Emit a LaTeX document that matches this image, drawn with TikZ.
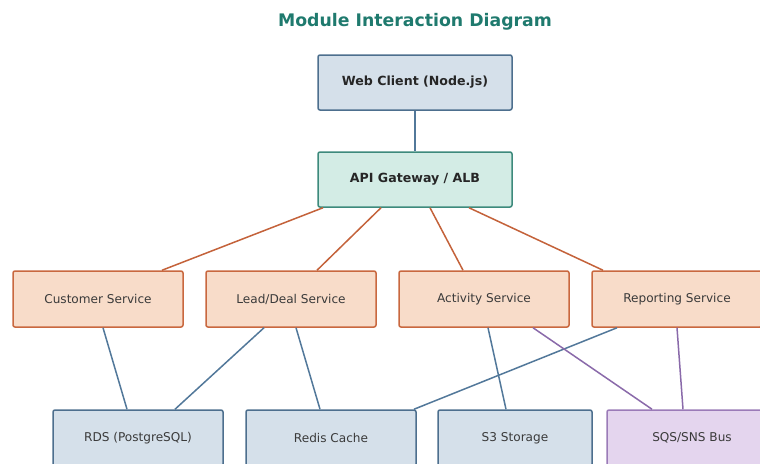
\documentclass[tikz,border=0pt]{standalone}
\usepackage{fontspec}
\setmainfont{DejaVu Sans}
\definecolor{bfill}{HTML}{D5E0EA}
\definecolor{bdraw}{HTML}{4D6F8E}
\definecolor{tfill}{HTML}{D3ECE5}
\definecolor{tdraw}{HTML}{3D8A7C}
\definecolor{pfill}{HTML}{F8DCC9}
\definecolor{pdraw}{HTML}{C9683F}
\definecolor{lfill}{HTML}{E4D5EE}
\definecolor{ldraw}{HTML}{9B7BB8}
\definecolor{eorange}{HTML}{C4623A}
\definecolor{eblue}{HTML}{52789A}
\definecolor{epurple}{HTML}{8A6AAA}
\definecolor{titlec}{HTML}{1F7A6E}
\definecolor{txt}{HTML}{3A3A3A}
\tikzset{
  box/.style={rectangle, rounded corners=2pt, line width=1.5pt, minimum height=55pt, inner sep=0pt, text=txt, font=\fontsize{12.1}{14}\selectfont},
  bluebox/.style={box, fill=bfill, draw=bdraw},
  tealbox/.style={box, fill=tfill, draw=tdraw},
  peachbox/.style={box, fill=pfill, draw=pdraw, minimum width=170pt, minimum height=56pt},
  lavbox/.style={box, fill=lfill, draw=ldraw},
  bold/.style={font=\fontsize{12.6}{14}\selectfont\bfseries, text=black!85},
  eo/.style={draw=eorange, line width=1.5pt},
  eb/.style={draw=eblue, line width=1.5pt},
  ep/.style={draw=epurple, line width=1.5pt},
}
\begin{document}
\begin{tikzpicture}[x=1pt,y=-1pt]
\useasboundingbox (0,0) rectangle (760,463);
\clip (0,0) rectangle (760,463);
\fill[white] (0,0) rectangle (760,463);
\node[text=titlec, font=\fontsize{17.3}{20}\selectfont\bfseries] (title) at (415,22) {Module Interaction Diagram};
\node[tealbox, bold, minimum width=194pt] (api) at (415,179.5) {API Gateway / ALB};
\node[peachbox] (cust) at (98,299) {Customer Service};
\node[peachbox] (lead) at (291,299) {Lead/Deal Service};
\node[peachbox] (act) at (484,299) {Activity Service};
\node[peachbox] (rep) at (677,299) {Reporting Service};
\path[eo] ([xshift=-92pt]api.south) -- ([xshift=64pt]cust.north);
\path[eo] ([xshift=-34pt]api.south) -- ([xshift=26pt]lead.north);
\path[eo] ([xshift=15pt]api.south) -- ([xshift=-21pt]act.north);
\path[eo] ([xshift=54pt]api.south) -- ([xshift=-74pt]rep.north);
\node[bluebox, bold, minimum width=194pt] (web) at (415,82.5) {Web Client (Node.js)};
\path[eb] (web.south) -- (api.north);
\node[bluebox, minimum width=170pt, minimum height=56pt] (rds) at (138,438) {RDS (PostgreSQL)};
\node[bluebox, minimum width=170pt, minimum height=56pt] (redis) at (331,438) {Redis Cache};
\node[bluebox, minimum width=154pt, minimum height=56pt] (s3) at (515,438) {S3 Storage};
\node[lavbox, minimum width=170pt, minimum height=56pt] (sqs) at (692,438) {SQS/SNS Bus};
\path[eb] ([xshift=5pt]cust.south) -- ([xshift=-11pt]rds.north);
\path[eb] ([xshift=-27pt]lead.south) -- ([xshift=37pt]rds.north);
\path[eb] ([xshift=5pt]lead.south) -- ([xshift=-11pt]redis.north);
\path[eb] ([xshift=4pt]act.south) -- ([xshift=-9pt]s3.north);
\path[eb] ([xshift=-60pt]rep.south) -- ([xshift=83pt]redis.north);
\path[ep] ([xshift=49pt]act.south) -- ([xshift=-40pt]sqs.north);
\path[ep] (rep.south) -- ([xshift=-9pt]sqs.north);
\end{tikzpicture}
\end{document}
